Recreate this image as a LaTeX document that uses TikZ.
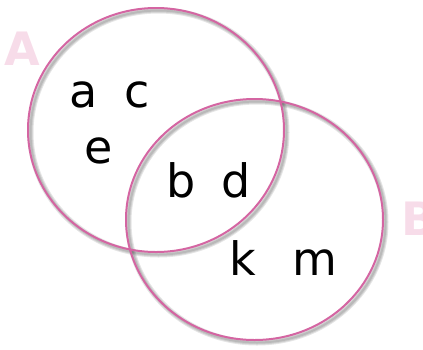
\documentclass[tikz,border=0pt]{standalone}
\usepackage{fontspec}
\setmainfont{DejaVu Sans}
\begin{document}
\begin{tikzpicture}[x=1pt,y=-1pt,
  lbl/.style={anchor=base,inner sep=0pt,font=\fontsize{46}{50}\selectfont},
  setlbl/.style={anchor=base,inner sep=0pt,font=\fontsize{46}{50}\selectfont\bfseries,text=setpink},
  ring/.style={draw=ringpink,line width=2pt},
  shad/.style={draw=black,line width=#1,opacity=0.1}]
\definecolor{ringpink}{HTML}{D465A2}
\definecolor{setpink}{HTML}{F7DCE9}
\useasboundingbox (0,0) rectangle (423,349);
% shadows
\foreach \w in {2,4,6}{
  \draw[shad=\w pt] (158.5,132.5) ellipse [x radius=128, y radius=122];
  \draw[shad=\w pt] (257,222) ellipse [x radius=128.5, y radius=120.5];
}
% circles
\draw[ring] (156,130) ellipse [x radius=128, y radius=122];
\draw[ring] (254.5,219.5) ellipse [x radius=128.5, y radius=120.5];
% set labels
\node[setlbl] (A) at (22,65) {A};
\node[setlbl,anchor=base west] (B) at (401,235) {B};
% elements
\node[lbl] (a) at (84,107) {a};
\node[lbl] (c) at (137,107) {c};
\node[lbl] (e) at (99,163) {e};
\node[lbl] (b) at (181,197) {b};
\node[lbl] (d) at (236,197) {d};
\node[lbl] (k) at (243,275) {k};
\node[lbl] (m) at (315,275) {m};
\end{tikzpicture}
\end{document}
